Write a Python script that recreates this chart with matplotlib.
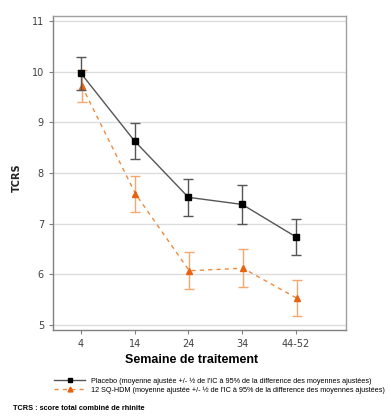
import matplotlib
matplotlib.use("Agg")
import matplotlib.pyplot as plt
from matplotlib.lines import Line2D

weeks = ["4", "14", "24", "34", "44-52"]
placebo = [9.97, 8.63, 7.52, 7.38, 6.74]
placebo_err = [0.33, 0.36, 0.37, 0.38, 0.36]
hdm = [9.72, 7.59, 6.07, 6.12, 5.53]
hdm_err = [0.32, 0.36, 0.37, 0.38, 0.36]

plt.rcParams['font.family'] = ['DejaVu Sans']

fig = plt.figure(figsize=(3.91, 4.17), dpi=100)
ax = fig.add_axes([0.1355, 0.2086, 0.749, 0.753])

x = list(range(len(weeks)))
x_hdm = [i + 0.015 for i in x]

ax.errorbar(x_hdm, hdm, yerr=hdm_err, color='#f08a3c', linestyle=(0, (3, 3)),
            linewidth=1.0, marker='^', markersize=4.5, markerfacecolor='#e8620f',
            markeredgecolor='#e8620f', ecolor='#f4a870', elinewidth=1.0,
            capsize=3.5, capthick=1.0, zorder=3)
ax.errorbar(x, placebo, yerr=placebo_err, color='#555555', linestyle='-',
            linewidth=1.0, marker='s', markersize=4, markerfacecolor='black',
            markeredgecolor='black', ecolor='#555555', elinewidth=1.0,
            capsize=3.5, capthick=1.0, zorder=4)

ax.set_xlim(-0.52, 4.93)
ax.set_ylim(4.9, 11.1)
ax.set_xticks(x)
ax.set_xticklabels(weeks)
ax.set_yticks([5, 6, 7, 8, 9, 10, 11])
ax.yaxis.grid(True, color='#dddddd', linewidth=1.0)
ax.set_axisbelow(True)
for s in ax.spines.values():
    s.set_color('#a0a0a0')
    s.set_linewidth(1.0)
ax.spines['left'].set_color('#808080')
ax.spines['bottom'].set_color('#808080')
ax.tick_params(axis='both', labelsize=7, colors='#404040', length=3, width=0.8)
ax.tick_params(axis='both', color='#808080')

fig.text(17 / 391, 1 - 178 / 417, 'TCRS', rotation=90, ha='center', va='center',
         fontsize=7, fontweight='bold', color='#222222')
fig.text(0.489, 1 - 360 / 417, 'Semaine de traitement', ha='center', va='center',
         fontsize=9, fontweight='bold', family='Liberation Sans')

handles = [
    Line2D([], [], color='#555555', linestyle='-', linewidth=1.0, marker='s',
           markersize=3, markerfacecolor='black', markeredgecolor='black'),
    Line2D([], [], color='#f08a3c', linestyle=(0, (3, 3)), linewidth=1.0, marker='^',
           markersize=3.5, markerfacecolor='#e8620f', markeredgecolor='#e8620f'),
]
labels = [
    "Placebo (moyenne ajustée +/- ½ de l'IC à 95% de la difference des moyennes ajustées)",
    "12 SQ-HDM (moyenne ajustée +/- ½ de l'IC à 95% de la difference des moyennes ajustées)",
]
fig.legend(handles, labels, loc='upper left', bbox_to_anchor=(0.13, 1 - 374 / 417),
           frameon=False, handlelength=4.2, handletextpad=0.8,
           labelspacing=0.25, borderpad=0, prop={'family': 'Liberation Sans', 'size': 5.2})

fig.text(13 / 391, 1 - 408 / 417, 'TCRS : score total combiné de rhinite', ha='left',
         va='center', fontsize=5.3, fontweight='bold', family='Liberation Sans')

fig.savefig('out.png', dpi=100)
